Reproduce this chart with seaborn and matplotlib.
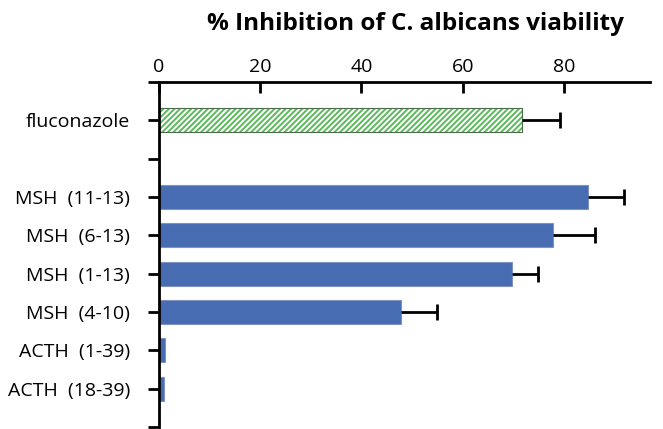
import matplotlib
matplotlib.use("Agg")
import matplotlib.pyplot as plt
import seaborn as sns
import pandas as pd
import numpy as np

labels = ["fluconazole", "MSH  (11-13)", "MSH  (6-13)", "MSH  (1-13)",
          "MSH  (4-10)", "ACTH  (1-39)", "ACTH  (18-39)"]
values = [71.8, 84.8, 77.9, 69.8, 47.8, 1.25, 1.05]
errors = [7.4, 7.0, 8.2, 5.0, 7.1, 0, 0]
order = ["fluconazole", "", "MSH  (11-13)", "MSH  (6-13)", "MSH  (1-13)",
         "MSH  (4-10)", "ACTH  (1-39)", "ACTH  (18-39)"]
xticks = [0, 20, 40, 60, 80]

sns.set_style("white")
plt.rcParams['font.family'] = ['Open Sans', 'DejaVu Sans']
plt.rcParams['text.color'] = 'black'
plt.rcParams['xtick.color'] = 'black'
plt.rcParams['ytick.color'] = 'black'
plt.rcParams['hatch.linewidth'] = 1.4

df = pd.DataFrame({"label": labels, "value": values, "err": errors})

fig = plt.figure(figsize=(6.63, 4.29), dpi=100)
ax = fig.add_axes([0.2398, 0.0047, 0.7406, 0.8042])

blue = "#476cb2"
green = "#5cb85c"
pal = {l: (blue if l != "fluconazole" else "white") for l in labels}
sns.barplot(data=df, x="value", y="label", order=order, hue="label",
            palette=pal, legend=False, width=0.62, ax=ax, orient="h",
            edgecolor="#7f92c0", linewidth=0.8, saturation=1)

for p in ax.patches:
    c = p.get_y() + p.get_height() / 2
    if abs(c - 0) < 0.01:
        p.set_facecolor("white")
        p.set_edgecolor(green)
        p.set_hatch("//////")
        p.set_linewidth(0.6)

pos = {l: i for i, l in enumerate(order)}
ys = [pos[l] for l in labels]
ev = np.array(errors)
mask = ev > 0
eb = ax.errorbar(np.array(values)[mask], np.array(ys)[mask],
                 xerr=[np.zeros(mask.sum()), ev[mask]], fmt="none",
                 ecolor="black", elinewidth=2, capsize=6, capthick=2)
caps = eb[1]
if len(caps) == 2:
    caps[0].set_visible(False)

# thin dark outline around fluconazole bar
for p in list(ax.patches):
    c = p.get_y() + p.get_height() / 2
    if abs(c - 0) < 0.01:
        ax.add_patch(plt.Rectangle((p.get_x(), p.get_y()), p.get_width(),
                                   p.get_height(), fill=False,
                                   edgecolor="#4a6a4a", linewidth=0.8))
        break

ax.set_xlim(0, 97)
ax.set_ylim(8, -1)
ax.set_yticks(range(-1, 9))
ax.set_yticklabels([""] + order + [""])
ax.set_xticks(xticks)
ax.set_xlabel("")
ax.set_ylabel("")

ax.xaxis.tick_top()
ax.tick_params(axis="x", direction="in", length=8, width=2, labelsize=14,
               pad=4, top=True, bottom=False)
ax.tick_params(axis="y", direction="out", length=8, width=2, labelsize=14,
               left=True, pad=13)
for s in ["right", "bottom"]:
    ax.spines[s].set_visible(False)
for s in ["top", "left"]:
    ax.spines[s].set_linewidth(2)
    ax.spines[s].set_color("black")

fig.text(0.627, 0.944, "% Inhibition of C. albicans viability",
         ha="center", va="center", fontsize=17.5, fontweight="bold")

fig.savefig("out.png", dpi=100)
